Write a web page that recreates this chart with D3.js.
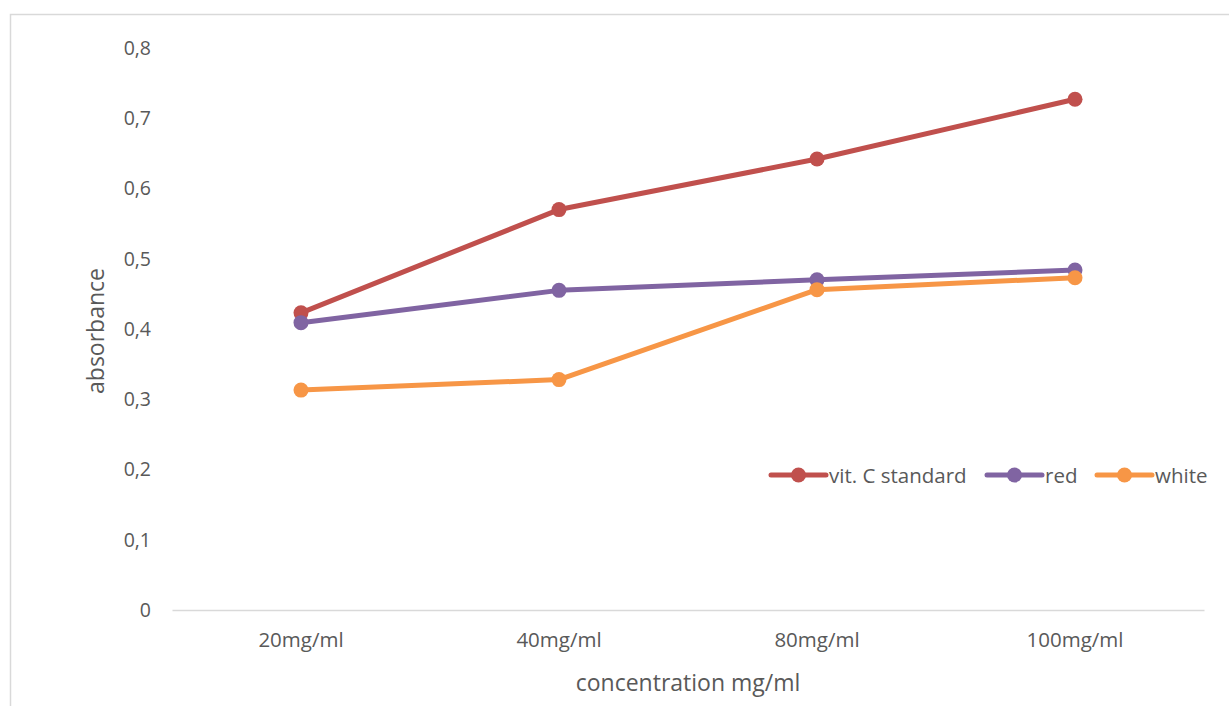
<!DOCTYPE html>
<html>
<head>
<meta charset="utf-8">
<script src="https://cdn.jsdelivr.net/npm/d3@7"></script>
<style>
  body { margin: 0; background: #fff; }
  svg { display: block; }
  text { font-family: "Open Sans", "Liberation Sans", sans-serif; fill: #595959; }
</style>
</head>
<body>
<svg id="chart" width="1229" height="706"></svg>
<script>
// Absorbance readings per concentration
const categories = ["20mg/ml", "40mg/ml", "80mg/ml", "100mg/ml"];
const vitC = [0.423, 0.570, 0.642, 0.727];
const red = [0.409, 0.455, 0.470, 0.484];
const white = [0.313, 0.328, 0.456, 0.473];
const yTicks = [0, 0.1, 0.2, 0.3, 0.4, 0.5, 0.6, 0.7, 0.8];

const series = [
  { name: "vit. C standard", values: vitC, color: "#C0504D" },
  { name: "red", values: red, color: "#8064A2" },
  { name: "white", values: white, color: "#F79646" }
];

const svg = d3.select("#chart");

// Outer chart frame
svg.append("rect")
  .attr("x", 10.5).attr("y", 14.5)
  .attr("width", 1240).attr("height", 720)
  .attr("fill", "none").attr("stroke", "#d9d9d9").attr("stroke-width", 1.5);

const plotLeft = 172, plotRight = 1204, plotTop = 48, plotBottom = 610;

const x = d3.scaleBand().domain(categories).range([plotLeft, plotRight]);
const y = d3.scaleLinear().domain([0, 0.8]).range([plotBottom, plotTop]);

// Y axis labels (no axis line)
const fmt = d => d === 0 ? "0" : d3.format(".1f")(d).replace(".", ",");
svg.append("g").selectAll("text").data(yTicks).join("text")
  .attr("x", 151).attr("y", d => y(d))
  .attr("dy", "0.35em")
  .attr("text-anchor", "end")
  .attr("font-size", 19.5)
  .text(fmt);

// X axis line and labels
const xAxis = d3.axisBottom(x).tickSize(0).tickPadding(22);
const gx = svg.append("g").attr("transform", `translate(0,${plotBottom})`).call(xAxis);
gx.select(".domain").attr("stroke", "#d9d9d9").attr("stroke-width", 1.5);
gx.selectAll("text").attr("font-size", 20.5).attr("fill", "#595959")
  .style("font-family", '"Open Sans", "Liberation Sans", sans-serif');

// Axis titles
svg.append("text")
  .attr("x", (plotLeft + plotRight) / 2).attr("y", 691)
  .attr("text-anchor", "middle").attr("font-size", 23)
  .text("concentration mg/ml");
svg.append("text")
  .attr("transform", `translate(104,${(plotTop + plotBottom) / 2 + 2}) rotate(-90)`)
  .attr("text-anchor", "middle").attr("font-size", 23)
  .text("absorbance");

// Lines and markers
const line = d3.line()
  .x((d, i) => x(categories[i]) + x.bandwidth() / 2)
  .y(d => y(d));

series.forEach(s => {
  svg.append("path")
    .datum(s.values)
    .attr("d", line)
    .attr("fill", "none")
    .attr("stroke", s.color)
    .attr("stroke-width", 5)
    .attr("stroke-linejoin", "round")
    .attr("stroke-linecap", "round");
  svg.append("g").selectAll("circle").data(s.values).join("circle")
    .attr("cx", (d, i) => x(categories[i]) + x.bandwidth() / 2)
    .attr("cy", d => y(d))
    .attr("r", 7.5)
    .attr("fill", s.color);
});

// Legend
const legendItems = [
  { s: series[0], x0: 771 },
  { s: series[1], x0: 987 },
  { s: series[2], x0: 1097 }
];
const ly = 475;
legendItems.forEach(({ s, x0 }) => {
  const g = svg.append("g");
  g.append("line")
    .attr("x1", x0).attr("x2", x0 + 55)
    .attr("y1", ly).attr("y2", ly)
    .attr("stroke", s.color).attr("stroke-width", 5)
    .attr("stroke-linecap", "round");
  g.append("circle").attr("cx", x0 + 27.5).attr("cy", ly).attr("r", 7.5).attr("fill", s.color);
  g.append("text")
    .attr("x", x0 + 58).attr("y", ly + 1).attr("dy", "0.35em")
    .attr("font-size", 20.5)
    .text(s.name);
});
</script>
</body>
</html>
